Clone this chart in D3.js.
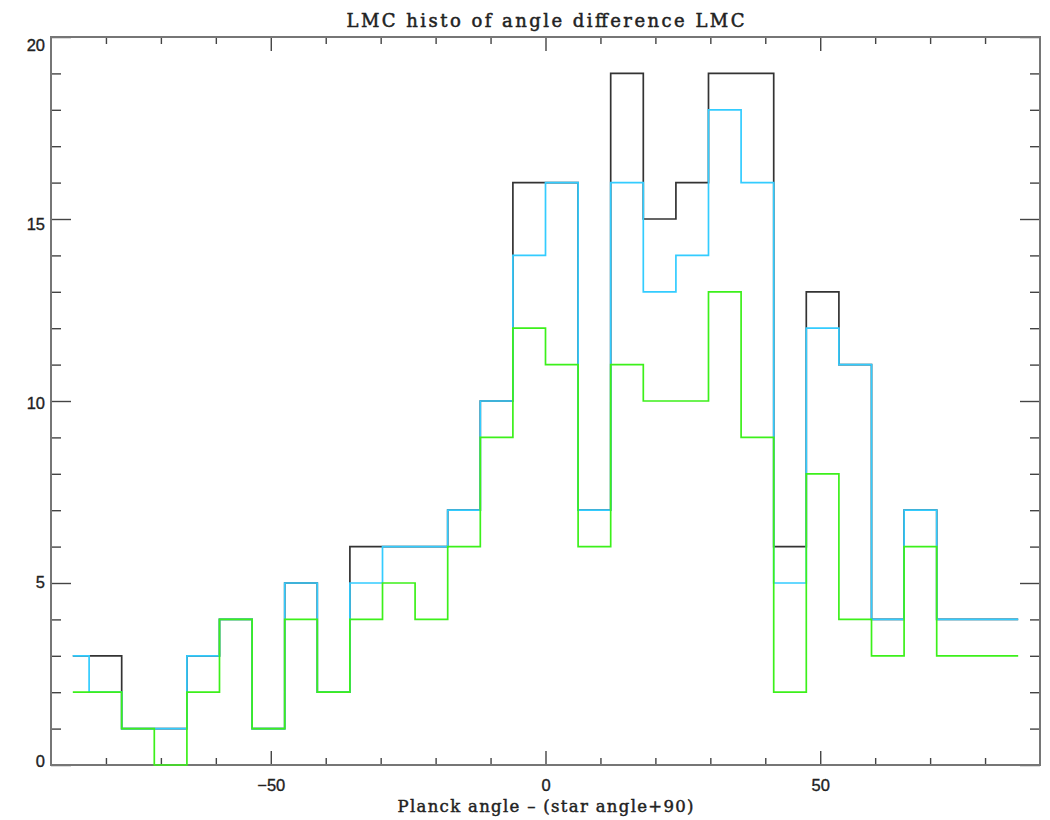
<!DOCTYPE html>
<html>
<head>
<meta charset="utf-8">
<script src="https://cdn.jsdelivr.net/npm/d3@7"></script>
<style>
  html, body { margin: 0; padding: 0; background: #ffffff; }
  svg { display: block; }
</style>
</head>
<body>
<svg id="chart" width="1050" height="820"></svg>
<script>
// Histogram bin centres (degrees), 30 bins spanning -89 .. 89
const binCenters = [
  -86.03, -80.10, -74.17, -68.23, -62.30, -56.37, -50.43, -44.50, -38.57, -32.63,
  -26.70, -20.77, -14.83,  -8.90,  -2.97,   2.97,   8.90,  14.83,  20.77,  26.70,
   32.63,  38.57,  44.50,  50.43,  56.37,  62.30,  68.23,  74.17,  80.10,  86.03
];

// Counts per bin for the three samples
const countsAll = [3, 3, 1, 1, 3, 4, 1, 5, 2, 6, 6, 6, 7, 10, 16, 16, 7, 19, 15, 16, 19, 19, 6, 13, 11, 4, 7, 4, 4, 4];
const countsCyan = [3, 2, 1, 1, 3, 4, 1, 5, 2, 5, 6, 6, 7, 10, 14, 16, 7, 16, 13, 14, 18, 16, 5, 12, 11, 4, 7, 4, 4, 4];
const countsGreen = [2, 2, 1, 0, 2, 4, 1, 4, 2, 4, 5, 4, 6, 9, 12, 11, 6, 11, 10, 10, 13, 9, 2, 8, 4, 3, 6, 3, 3, 3];

// Axis ranges and ticks
const xDomain = [-90, 90];
const yDomain = [0, 20];
const xMajorTicks = [-50, 0, 50];
const xMinorTicks = [-80, -70, -60, -40, -30, -20, -10, 10, 20, 30, 40, 60, 70, 80];
const yMajorTicks = [0, 5, 10, 15, 20];
const yMinorTicks = [1, 2, 3, 4, 6, 7, 8, 9, 11, 12, 13, 14, 16, 17, 18, 19];

const titleText = "LMC histo of angle difference LMC";
const xTitleText = "Planck angle \u2013 (star angle+90)";

// ---- layout ----
const plot = { left: 51, right: 1040, top: 37, bottom: 765 };
const axisColor = "#767676";
const tickColor = "#444";
const labelFont = "'Liberation Sans', Arial, sans-serif";
const titleFont = "'DejaVu Serif', 'Liberation Serif', serif";

const svg = d3.select("#chart");

const x = d3.scaleLinear().domain(xDomain).range([plot.left, plot.right]);
const y = d3.scaleLinear().domain(yDomain).range([plot.bottom, plot.top]);
// tick labels on the y axis sit slightly inward from the extreme ticks
const yLabel = d3.scaleLinear().domain(yDomain).range([plot.bottom + 1, plot.top + 13]);

const plotW = plot.right - plot.left;
const plotH = plot.bottom - plot.top;
const xMajorLen = 14, xMinorLen = 7, yMajorLen = 20, yMinorLen = 10;

function styleAxis(g) {
  g.select(".domain").remove();
  g.selectAll(".tick line").attr("stroke", tickColor).attr("stroke-width", 1.4);
  g.selectAll(".tick text")
    .attr("fill", "#222")
    .attr("stroke", "#222")
    .attr("stroke-width", 0.35)
    .style("font-family", labelFont)
    .style("font-size", "16.5px");
}

// bottom axis: ticks point up into the plot, labels below
svg.append("g")
  .attr("transform", `translate(0,${plot.bottom})`)
  .call(d3.axisBottom(x).tickValues(xMajorTicks).tickSizeInner(-xMajorLen).tickSizeOuter(0)
        .tickPadding(14).tickFormat(d3.format("d")))
  .call(styleAxis);
svg.append("g")
  .attr("transform", `translate(0,${plot.bottom})`)
  .call(d3.axisBottom(x).tickValues(xMinorTicks).tickSizeInner(-xMinorLen).tickSizeOuter(0).tickFormat(""))
  .call(styleAxis);

// top axis: ticks point down, no labels
svg.append("g")
  .attr("transform", `translate(0,${plot.top})`)
  .call(d3.axisTop(x).tickValues(xMajorTicks).tickSizeInner(-xMajorLen).tickSizeOuter(0).tickFormat(""))
  .call(styleAxis);
svg.append("g")
  .attr("transform", `translate(0,${plot.top})`)
  .call(d3.axisTop(x).tickValues(xMinorTicks).tickSizeInner(-xMinorLen).tickSizeOuter(0).tickFormat(""))
  .call(styleAxis);

// left axis: ticks point right, labels to the left
const leftMajor = svg.append("g")
  .attr("transform", `translate(${plot.left},0)`)
  .call(d3.axisLeft(y).tickValues(yMajorTicks).tickSizeInner(-yMajorLen).tickSizeOuter(0)
        .tickPadding(6).tickFormat(d3.format("d")))
  .call(styleAxis);
leftMajor.selectAll(".tick text")
  .attr("dy", null)
  .attr("y", d => yLabel(d) - y(d));
svg.append("g")
  .attr("transform", `translate(${plot.left},0)`)
  .call(d3.axisLeft(y).tickValues(yMinorTicks).tickSizeInner(-yMinorLen).tickSizeOuter(0).tickFormat(""))
  .call(styleAxis);

// right axis: ticks point left, no labels
svg.append("g")
  .attr("transform", `translate(${plot.right},0)`)
  .call(d3.axisRight(y).tickValues(yMajorTicks).tickSizeInner(-yMajorLen).tickSizeOuter(0).tickFormat(""))
  .call(styleAxis);
svg.append("g")
  .attr("transform", `translate(${plot.right},0)`)
  .call(d3.axisRight(y).tickValues(yMinorTicks).tickSizeInner(-yMinorLen).tickSizeOuter(0).tickFormat(""))
  .call(styleAxis);

// plot frame
svg.append("rect")
  .attr("x", plot.left).attr("y", plot.top)
  .attr("width", plotW).attr("height", plotH)
  .attr("fill", "none")
  .attr("stroke", axisColor)
  .attr("stroke-width", 2);

// histogram step lines (steps change at the midpoints between bin centres)
const step = d3.line()
  .x((d, i) => x(binCenters[i]))
  .y(d => y(d))
  .curve(d3.curveStep);

const series = [
  { name: "all", values: countsAll, color: "#333333" },
  { name: "cyan", values: countsCyan, color: "#33ccff" },
  { name: "green", values: countsGreen, color: "#3cf01a" }
];

svg.append("g").selectAll("path")
  .data(series)
  .join("path")
  .attr("d", d => step(d.values))
  .attr("fill", "none")
  .attr("stroke", d => d.color)
  .attr("stroke-width", 1.7)
  .attr("stroke-linejoin", "miter");

// titles
svg.append("text")
  .attr("x", (plot.left + plot.right) / 2)
  .attr("y", 27)
  .attr("text-anchor", "middle")
  .attr("textLength", 398)
  .attr("lengthAdjust", "spacing")
  .attr("fill", "#222")
  .attr("stroke", "#222")
  .attr("stroke-width", 0.5)
  .style("font-family", titleFont)
  .style("font-size", "18px")
  .text(titleText);

svg.append("text")
  .attr("x", (plot.left + plot.right) / 2)
  .attr("y", 812)
  .attr("text-anchor", "middle")
  .attr("textLength", 296)
  .attr("lengthAdjust", "spacing")
  .attr("fill", "#222")
  .attr("stroke", "#222")
  .attr("stroke-width", 0.45)
  .style("font-family", titleFont)
  .style("font-size", "16.5px")
  .text(xTitleText);
</script>
</body>
</html>
